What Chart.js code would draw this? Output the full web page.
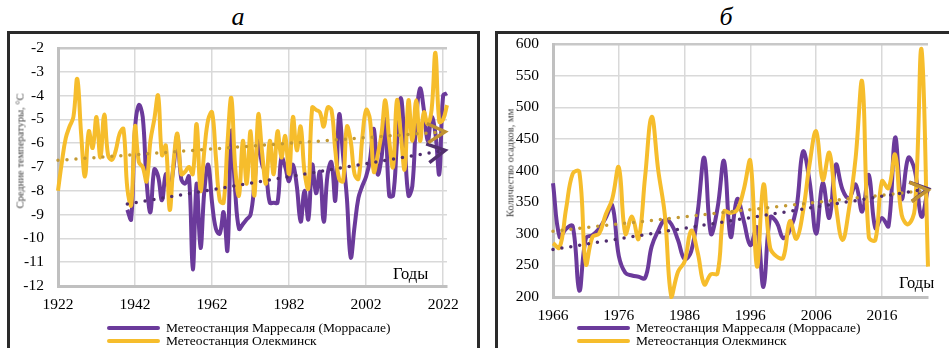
<!DOCTYPE html>
<html lang="ru">
<head>
<meta charset="utf-8">
<title>Температура и осадки</title>
<script src="https://cdn.jsdelivr.net/npm/chart.js@4.4.1/dist/chart.umd.min.js"></script>
<style>
  body { margin: 0; width: 949px; height: 348px; overflow: hidden; background: #fff; position: relative;
         font-family: "Liberation Serif", "Times New Roman", serif; color: #000; }
  .frame { position: absolute; box-sizing: border-box; border: 3px solid #2a2a2a; height: 360px; top: 31px; }
  canvas { position: absolute; top: 0; }
  .letter { position: absolute; font-style: italic; font-size: 26px; line-height: 26px; transform: translateX(-50%); }
  .ytitle { position: absolute; font-size: 10.5px; color: #404040; white-space: nowrap;
            transform: translate(-50%, -50%) rotate(-90deg); }
  .years { position: absolute; font-size: 16.5px; line-height: 18px; }
  .legend { position: absolute; font-size: 13.5px; }
  .legend div { height: 13px; display: flex; align-items: center; white-space: nowrap; }
  .legend .swatch { display: inline-block; width: 53px; height: 4px; margin-right: 6px; border-radius: 2px; }
</style>
</head>
<body>
<div class="frame" style="left:7px; width:473px;"></div>
<div class="frame" style="left:495px; width:470px;"></div>

<div class="letter" style="left:238px; top:4px;">а</div>
<div class="letter" style="left:726px; top:4px;">б</div>

<canvas id="chartA" width="480" height="348" style="left:0;"></canvas>
<canvas id="chartB" width="469" height="348" style="left:480px;"></canvas>

<div class="ytitle" style="left:20px; top:151px;">Средние температуры, °С</div>
<div class="ytitle" style="left:510px; top:163px;">Количество осадков, мм</div>

<div class="years" style="left:393px; top:265px;">Годы</div>
<div class="years" style="left:899px; top:274px;">Годы</div>

<div class="legend" style="left:107px; top:321px;">
  <div><span class="swatch" style="background:#6b3a9b"></span>Метеостанция Марресаля (Моррасале)</div>
  <div><span class="swatch" style="background:#f6bd2c"></span>Метеостанция Олекминск</div>
</div>
<div class="legend" style="left:577px; top:321px;">
  <div><span class="swatch" style="background:#6b3a9b"></span>Метеостанция Марресаля (Моррасале)</div>
  <div><span class="swatch" style="background:#f6bd2c"></span>Метеостанция Олекминск</div>
</div>

<script>
// ---- panel а: mean annual temperature, °C ----
const yearsA = [
  1922, 1923, 1924, 1925, 1926, 1927, 1928, 1929, 1930, 1931,
  1932, 1933, 1934, 1935, 1936, 1937, 1938, 1939, 1940, 1941,
  1942, 1943, 1944, 1945, 1946, 1947, 1948, 1949, 1950, 1951,
  1952, 1953, 1954, 1955, 1956, 1957, 1958, 1959, 1960, 1961,
  1962, 1963, 1964, 1965, 1966, 1967, 1968, 1969, 1970, 1971,
  1972, 1973, 1974, 1975, 1976, 1977, 1978, 1979, 1980, 1981,
  1982, 1983, 1984, 1985, 1986, 1987, 1988, 1989, 1990, 1991,
  1992, 1993, 1994, 1995, 1996, 1997, 1998, 1999, 2000, 2001,
  2002, 2003, 2004, 2005, 2006, 2007, 2008, 2009, 2010, 2011,
  2012, 2013, 2014, 2015, 2016, 2017, 2018, 2019, 2020, 2021,
  2022, 2023
];
const olekminskTemp = [
  -8.0, -6.8, -5.8, -5.3, -4.9, -3.3, -5.6, -7.4, -5.5, -6.2,
  -4.9, -6.6, -4.8, -6.5, -6.7, -6.3, -5.6, -5.4, -7.9, -8.6,
  -5.3, -6.8, -7.0, -7.6, -5.9, -5.0, -4.0, -6.5, -6.1, -8.8,
  -6.8, -5.6, -7.3, -7.2, -7.0, -7.3, -5.2, -8.0, -6.3, -5.0,
  -4.7, -6.6, -8.4, -8.5, -6.0, -4.1, -7.0, -8.2, -5.9, -7.7,
  -5.5, -8.2, -4.8, -6.4, -7.7, -5.9, -7.3, -5.5, -6.6, -5.7,
  -7.3, -4.9, -6.3, -5.3, -7.2, -7.9, -4.5, -4.6, -4.7, -5.3,
  -4.5, -4.6, -6.3, -7.5, -7.6, -5.3, -5.9, -7.3, -7.5, -5.8,
  -4.6, -5.0, -7.2, -6.5, -5.6, -4.2, -5.9, -7.0, -4.2, -5.6,
  -7.1, -4.2, -5.9, -4.2, -5.9, -4.7, -5.2, -4.6, -2.2, -5.1,
  -5.0, -4.4
];
const marresaleTempStart = 1940;
const marresaleTemp = [
  -8.8, -9.2, -5.4, -4.4, -4.9, -7.6, -8.9, -7.1, -7.4, -8.4,
  -7.3, -7.9, -7.0, -5.7, -7.5, -7.7, -7.4, -11.3, -7.7, -10.4,
  -8.0, -6.9, -8.5, -9.6, -9.8, -8.9, -10.5, -5.5, -8.0, -9.6,
  -9.4, -9.2, -9.0, -7.7, -5.9, -6.9, -7.3, -8.5, -8.5, -8.5,
  -6.6, -7.0, -7.6, -6.9, -7.8, -9.3, -8.0, -9.2, -6.9, -8.1,
  -7.2, -9.3, -7.3, -6.8, -8.4, -4.8, -6.5, -8.3, -10.8, -9.5,
  -8.3, -7.8, -7.4, -6.7, -5.4, -7.3, -6.6, -5.0, -8.2, -8.2,
  -6.0, -4.1, -6.0, -8.2, -7.8, -5.0, -3.7, -4.6, -5.9, -4.9,
  -5.6, -7.3, -4.0, -3.9
];
const trendYearsOlekA = [1922, 2022.5];
const trendOlekA = [-6.72, -5.52];
const trendYearsMarA = [1940, 2022.5];
const trendMarA = [-8.55, -6.3];
const xTicksA = [1922, 1942, 1962, 1982, 2002, 2022];

// ---- panel б: annual precipitation, mm ----
const yearsB = [
  1966, 1967, 1968, 1969, 1970, 1971, 1972, 1973, 1974, 1975,
  1976, 1977, 1978, 1979, 1980, 1981, 1982, 1983, 1984, 1985,
  1986, 1987, 1988, 1989, 1990, 1991, 1992, 1993, 1994, 1995,
  1996, 1997, 1998, 1999, 2000, 2001, 2002, 2003, 2004, 2005,
  2006, 2007, 2008, 2009, 2010, 2011, 2012, 2013, 2014, 2015,
  2016, 2017, 2018, 2019, 2020, 2021, 2022, 2023
];
const marresalePrecip = [
  380, 295, 308, 312, 210, 293, 298, 308, 325, 345,
  265, 238, 234, 232, 230, 280, 305, 322, 315, 290,
  260, 272, 335, 420, 300, 340, 415, 295, 355, 320,
  282, 310, 216, 326, 318, 293, 306, 340, 430, 383,
  300, 380, 325, 409, 370, 356, 378, 335, 393, 309,
  325, 312, 452, 355, 420, 400, 327, 372
];
const olekminskPrecip = [
  285, 278, 340, 395, 398, 252, 295, 300, 330, 355,
  405, 300, 327, 292, 390, 485, 400, 330, 200, 240,
  256, 305, 270, 220, 236, 237, 335, 333, 338, 370,
  415, 248, 378, 278, 264, 262, 320, 292, 335, 410,
  462, 385, 428, 345, 290, 340, 420, 540, 295, 290,
  383, 372, 425, 330, 315, 340, 592, 248
];
const trendYearsB = [1966, 2023];
const trendOlekB = [304, 369];
const trendMarB = [275, 371];
const xTicksB = [1966, 1976, 1986, 1996, 2006, 2016];

const purple = "#6b3a9b";
const gold = "#f6bd2c";
const fontFamily = "'Liberation Serif', 'Times New Roman', serif";

function toPoints(years, values) {
    return values.map((v, i) => ({ x: years[i], y: v }));
}

// open chevron at the end of each trend line
const trendArrow = {
    id: "trendArrow",
    afterDatasetsDraw(chart) {
        const ctx = chart.ctx;
        chart.data.datasets.forEach((ds, i) => {
            if (!ds.arrowColor) return;
            const pts = chart.getDatasetMeta(i).data;
            const a = pts[pts.length - 2];
            const b = pts[pts.length - 1];
            const ang = Math.atan2(b.y - a.y, b.x - a.x);
            const len = 20, spread = 0.5;
            ctx.save();
            ctx.strokeStyle = ds.arrowColor;
            ctx.lineWidth = 3.5;
            ctx.beginPath();
            ctx.moveTo(b.x - len * Math.cos(ang - spread), b.y - len * Math.sin(ang - spread));
            ctx.lineTo(b.x, b.y);
            ctx.lineTo(b.x - len * Math.cos(ang + spread), b.y - len * Math.sin(ang + spread));
            ctx.stroke();
            ctx.restore();
        });
    }
};

function seriesDataset(points, color, order) {
    return {
        data: points, borderColor: color, borderWidth: 4, tension: 0.4,
        pointRadius: 0, order: order, clip: 6
    };
}

function trendDataset(points, color, arrowColor) {
    return {
        data: points, borderColor: color, borderWidth: 3.5, borderDash: [0, 9],
        borderCapStyle: "round", pointRadius: 0, tension: 0, order: 0,
        arrowColor: arrowColor, clip: false
    };
}

function makeChart(id, opts) {
    const tickFont = { family: fontFamily, size: 15.5 };
    return new Chart(document.getElementById(id), {
        type: "line",
        data: {
            datasets: [
                seriesDataset(opts.mar, purple, 2),
                seriesDataset(opts.olek, gold, 1),
                trendDataset(opts.trendMar, "#4f2c6e", "#52306e"),
                trendDataset(opts.trendOlek, "#c39a34", "#c09232")
            ]
        },
        options: {
            responsive: false,
            animation: false,
            layout: { padding: { left: 0, right: opts.padRight, top: opts.top, bottom: 0 } },
            plugins: { legend: { display: false }, tooltip: { enabled: false } },
            scales: {
                x: {
                    type: "linear", min: opts.xMin, max: opts.xMax,
                    afterBuildTicks: s => { s.ticks = opts.xTicks.map(v => ({ value: v })); },
                    afterFit: s => { s.height = opts.xHeight; },
                    grid: { color: "#d9d9d9", lineWidth: 1.5, drawTicks: false },
                    border: { color: "#c0c0c0", width: 3 },
                    ticks: { padding: 10, color: "#000", font: tickFont, maxRotation: 0, callback: v => String(v) }
                },
                y: {
                    min: opts.yMin, max: opts.yMax,
                    afterFit: s => { s.width = opts.yWidth; },
                    grid: {
                        color: c => c.tick && c.tick.value === opts.yMax ? "#c8c8c8" : "#d9d9d9",
                        lineWidth: c => c.tick && c.tick.value === opts.yMax ? 2.5 : 1.5,
                        drawTicks: false
                    },
                    border: { color: "#c0c0c0", width: 3 },
                    ticks: { stepSize: opts.yStep, padding: 14, color: "#000", font: tickFont, callback: v => String(v) }
                }
            }
        },
        plugins: [trendArrow]
    });
}

function drawAll() {
    makeChart("chartA", {
        mar: toPoints(yearsA.slice(yearsA.indexOf(marresaleTempStart)), marresaleTemp),
        olek: toPoints(yearsA, olekminskTemp),
        trendMar: toPoints(trendYearsMarA, trendMarA),
        trendOlek: toPoints(trendYearsOlekA, trendOlekA),
        xMin: 1922, xMax: 2023, xTicks: xTicksA,
        yMin: -12, yMax: -2, yStep: 1,
        top: 48, padRight: 33, yWidth: 58, xHeight: 62
    });

    makeChart("chartB", {
        mar: toPoints(yearsB, marresalePrecip),
        olek: toPoints(yearsB, olekminskPrecip),
        trendMar: toPoints(trendYearsB, trendMarB),
        trendOlek: toPoints(trendYearsB, trendOlekB),
        xMin: 1966, xMax: 2023, xTicks: xTicksB,
        yMin: 200, yMax: 600, yStep: 50,
        top: 44, padRight: 21, yWidth: 73, xHeight: 51
    });
}

// make sure the serif face is ready before the canvases draw their tick labels
document.fonts.load("15.5px 'Liberation Serif'").then(drawAll, drawAll);
</script>
</body>
</html>
